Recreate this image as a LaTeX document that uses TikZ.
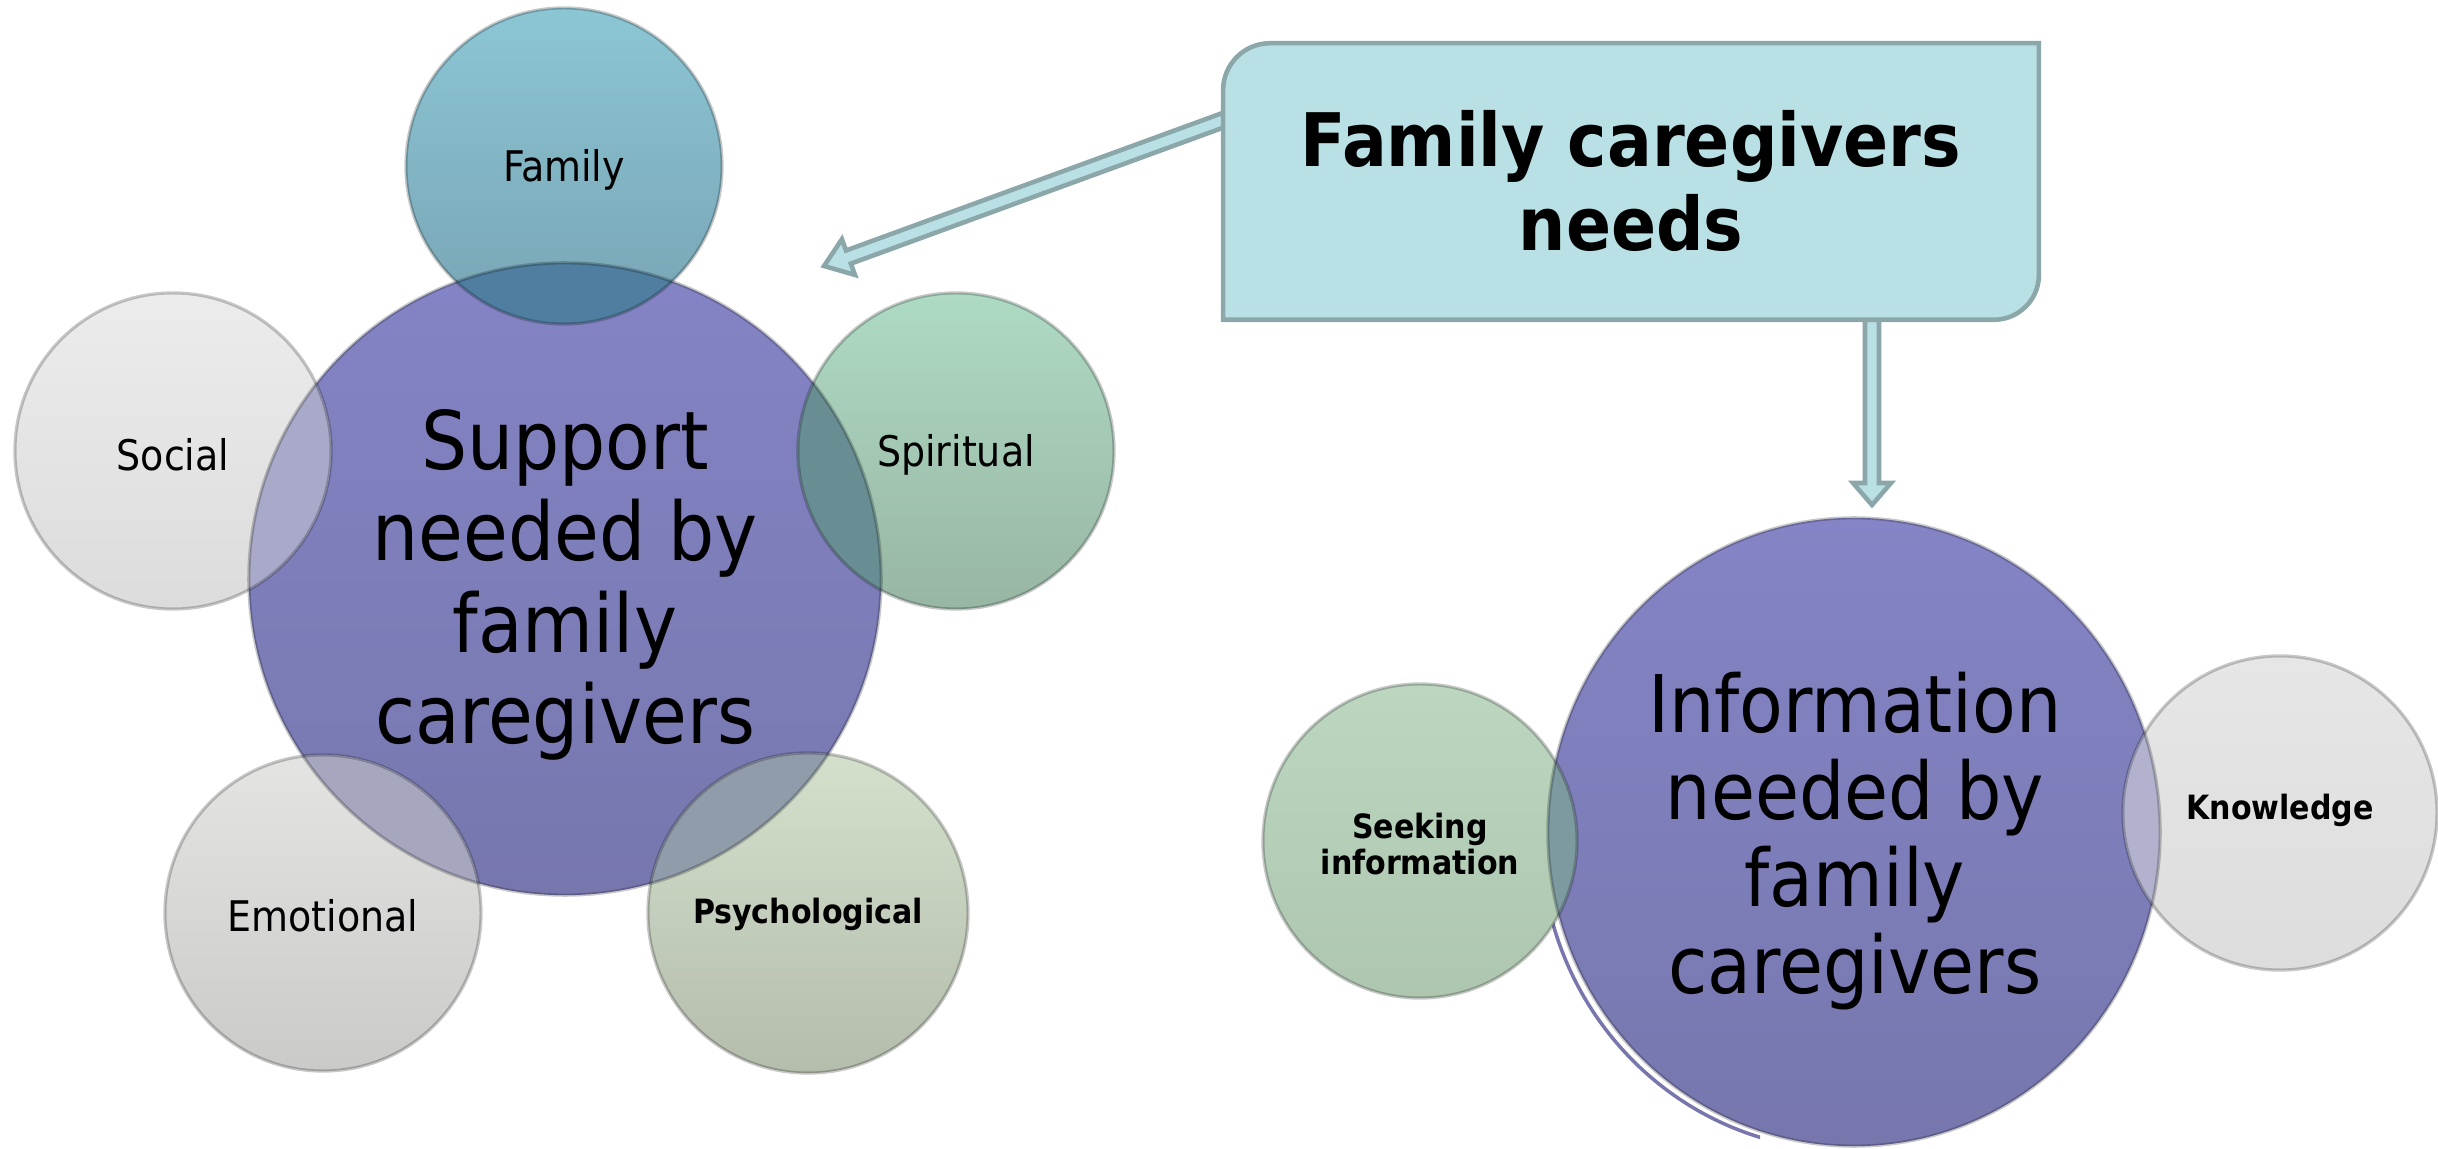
\documentclass[tikz,border=0pt]{standalone}
\usepackage{fontspec}
\setmainfont{DejaVu Sans Condensed}
\usetikzlibrary{calc}
\definecolor{ctrT}{HTML}{8484C6}
\definecolor{ctrB}{HTML}{7777AE}
\definecolor{famT}{HTML}{8CC6D4}
\definecolor{famB}{HTML}{78A4B4}
\definecolor{socT}{HTML}{ECECEC}
\definecolor{socB}{HTML}{DCDCDC}
\definecolor{spiT}{HTML}{AEDAC4}
\definecolor{spiB}{HTML}{98B6A4}
\definecolor{emoT}{HTML}{E4E4E2}
\definecolor{emoB}{HTML}{CACAC8}
\definecolor{psyT}{HTML}{D4E0CC}
\definecolor{psyB}{HTML}{B4BCAC}
\definecolor{seekT}{HTML}{BCD6C0}
\definecolor{seekB}{HTML}{AEC6B0}
\definecolor{knoT}{HTML}{E6E6E6}
\definecolor{knoB}{HTML}{DDDDDD}
\definecolor{famO}{HTML}{4F7EA0}
\definecolor{spiO}{HTML}{688E94}
\definecolor{socO}{HTML}{A9A9C9}
\definecolor{emoO}{HTML}{A6A6BF}
\definecolor{psyO}{HTML}{909CAA}
\definecolor{seekO}{HTML}{7C9AA0}
\definecolor{knoO}{HTML}{B2B2CE}
\definecolor{boxfill}{HTML}{B9E0E4}
\definecolor{boxline}{HTML}{8BA7A9}
\newcommand\blockarrow[5]{%
  \coordinate (hb) at ($(#2)!#5!(#1)$);
  \filldraw[arrowbox] ($(#1)!#3!90:(#2)$) -- ($(hb)!#3!90:(#2)$) -- ($(hb)!#4!90:(#2)$)
    -- (#2) -- ($(hb)!#4!-90:(#2)$) -- ($(hb)!#3!-90:(#2)$) -- ($(#1)!#3!-90:(#2)$) -- cycle;
}
\tikzset{
  bubble/.style={circle, inner sep=0pt, minimum size=3.16cm},
  rim/.style={draw=black, draw opacity=0.22, line width=0.9pt},
  lbl/.style={font=\fontsize{12}{14}\selectfont, text=black, inner sep=0pt},
  blbl/.style={font=\bfseries\fontsize{9.5}{10}\selectfont, align=center, inner sep=0pt},
  bigtxt/.style={font=\fontsize{23}{26}\selectfont, align=center, inner sep=0pt},
  arrowbox/.style={fill=boxfill, draw=boxline, line width=1.3pt, line join=miter},
}
\begin{document}
\begin{tikzpicture}[x=0.01cm,y=-0.01cm]
\useasboundingbox (0,0) rectangle (2438,1149);

% ---------- left cluster ----------
\node[bubble, minimum size=6.32cm] (sup) at (565,579) {};
\node[bubble] (fam) at (564,166) {};
\node[bubble] (soc) at (173,451) {};
\node[bubble] (spi) at (956,451) {};
\node[bubble] (emo) at (323,913) {};
\node[bubble] (psy) at (808,913) {};

\shade[top color=ctrT, bottom color=ctrB] (sup.center) circle[radius=3.16cm];
\shade[top color=famT, bottom color=famB] (fam.center) circle[radius=1.58cm];
\shade[top color=socT, bottom color=socB] (soc.center) circle[radius=1.58cm];
\shade[top color=spiT, bottom color=spiB] (spi.center) circle[radius=1.58cm];
\shade[top color=emoT, bottom color=emoB] (emo.center) circle[radius=1.58cm];
\shade[top color=psyT, bottom color=psyB] (psy.center) circle[radius=1.6cm];
\begin{scope}
  \clip (sup.center) circle[radius=3.16cm];
  \fill[famO] (fam.center) circle[radius=1.58cm];
  \fill[socO] (soc.center) circle[radius=1.58cm];
  \fill[spiO] (spi.center) circle[radius=1.58cm];
  \fill[emoO] (emo.center) circle[radius=1.58cm];
  \fill[psyO] (psy.center) circle[radius=1.6cm];
\end{scope}
\draw[rim] (sup.center) circle[radius=3.16cm];
\foreach \n in {fam,soc,spi,emo} \draw[rim] (\n.center) circle[radius=1.58cm];
\draw[rim] (psy.center) circle[radius=1.6cm];

\node[bigtxt] (tsup) at (565,585) {Support\\needed by\\family\\caregivers};
\node[lbl] (tfam) at (564,170) {Family};
\node[lbl] (tsoc) at (173,455) {Social};
\node[lbl] (tspi) at (956,455) {Spiritual};
\node[lbl] (temo) at (323,916) {Emotional};
\node[blbl] (tpsy) at (808,914) {Psychological};

% ---------- right cluster ----------
\node[bubble, minimum size=6.2cm] (info) at (1854,832) {};
\node[bubble] (seek) at (1420,841) {};
\node[bubble] (kno) at (2280,813) {};

\begin{scope}
  \clip (1480,840) rectangle (1760,1149);
  \draw[ctrB, line width=1pt] ([xshift=-0.07cm,yshift=-0.04cm]info.center) ellipse[x radius=3.06cm, y radius=3.14cm];
\end{scope}
\shade[top color=ctrT, bottom color=ctrB] (info.center) ellipse[x radius=3.06cm, y radius=3.14cm];
\shade[top color=seekT, bottom color=seekB] (seek.center) circle[radius=1.57cm];
\shade[top color=knoT, bottom color=knoB] (kno.center) circle[radius=1.57cm];
\begin{scope}
  \clip (info.center) ellipse[x radius=3.06cm, y radius=3.14cm];
  \fill[seekO] (seek.center) circle[radius=1.57cm];
  \fill[knoO] (kno.center) circle[radius=1.57cm];
\end{scope}
\draw[rim] (info.center) ellipse[x radius=3.06cm, y radius=3.14cm];
\draw[rim] (seek.center) circle[radius=1.57cm];
\draw[rim] (kno.center) circle[radius=1.57cm];

\node[bigtxt, font=\fontsize{22.6}{24.8}\selectfont] (tinfo) at (1855,841) {Information\\needed by\\family\\caregivers};
\node[blbl] (tseek) at (1420,844) {Seeking\\information};
\node[blbl] (tkno) at (2280,810) {Knowledge};

% ---------- title box and arrows ----------
\node[minimum width=8.14cm, minimum height=2.75cm, inner sep=0pt] (needs) at (1631,181.5) {};
\coordinate (la-s) at (1232,117);
\coordinate (la-e) at (824,266);
\coordinate (dn-s) at (1872,310);
\coordinate (dn-e) at (1872,505);
\blockarrow{la-s}{la-e}{0.07cm}{0.19cm}{0.26cm}
\blockarrow{dn-s}{dn-e}{0.07cm}{0.19cm}{0.22cm}

\filldraw[fill=boxfill, draw=boxline, line width=1.3pt]
  (needs.north east) -- ([xshift=0.47cm]needs.north west)
  arc[start angle=90, end angle=180, radius=0.47cm]
  -- (needs.south west) -- ([xshift=-0.45cm]needs.south east)
  arc[start angle=270, end angle=360, radius=0.45cm] -- cycle;
\node[font=\bfseries\fontsize{21}{24}\selectfont, align=center, inner sep=0pt] (tneeds) at (1631,181) {Family caregivers\\needs};
\end{tikzpicture}
\end{document}
